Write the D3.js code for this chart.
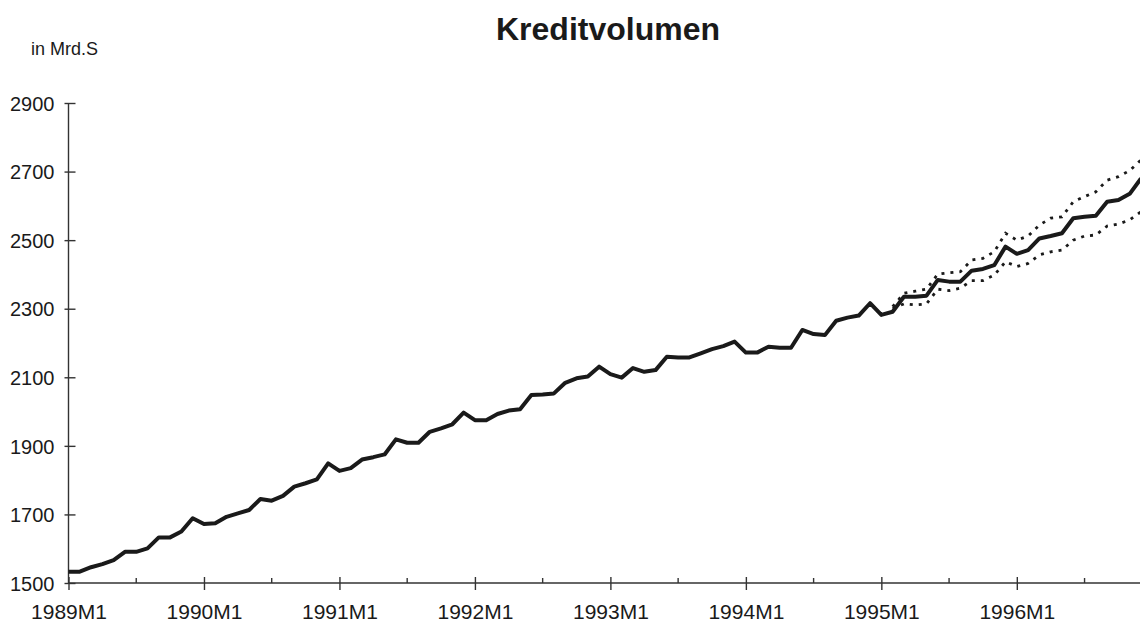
<!DOCTYPE html>
<html>
<head>
<meta charset="utf-8">
<script src="https://cdn.jsdelivr.net/npm/d3@7"></script>
<style>
  html, body { margin: 0; padding: 0; background: #fff; }
  svg text { font-family: "Liberation Sans", Arial, Helvetica, sans-serif; fill: #1a1a1a; }
</style>
</head>
<body>
<svg id="chart" width="1140" height="625"></svg>
<script>
// Kreditvolumen in Mrd.S, monthly 1989M1 .. 1996M12
var years = [1989, 1990, 1991, 1992, 1993, 1994, 1995, 1996];
var yTicks = [1500, 1700, 1900, 2100, 2300, 2500, 2700, 2900];

var volume = [
  1533, 1533, 1546, 1555, 1567, 1591, 1591, 1601, 1633, 1633, 1650, 1689,
  1672, 1674, 1693, 1703, 1713, 1745, 1740, 1754, 1781, 1791, 1802, 1849,
  1827, 1835, 1860, 1867, 1875, 1919, 1909, 1909, 1941, 1951, 1963, 1997,
  1975, 1975, 1993, 2003, 2007, 2048, 2050, 2053, 2084, 2097, 2102, 2131,
  2109, 2099, 2127, 2116, 2121, 2160, 2158, 2158, 2170, 2182, 2191, 2204,
  2172, 2172, 2189, 2186, 2186, 2238, 2226, 2223, 2265, 2274, 2280, 2316,
  2282, 2291, 2335, 2335, 2338, 2384, 2379, 2379, 2411, 2416, 2427, 2481,
  2460, 2471, 2505, 2512, 2520, 2564, 2568, 2571, 2612, 2617, 2635, 2680
];

// forecast band, starting at 1995M2 (month index 73)
var bandStart = 73;
var upper = [2306, 2345, 2351, 2357, 2401, 2405, 2408, 2442, 2447, 2466, 2520,
  2500, 2512, 2544, 2564, 2568, 2612, 2627, 2641, 2675, 2685, 2703, 2734];
var lower = [2301, 2314, 2311, 2314, 2357, 2353, 2360, 2382, 2382, 2398, 2437,
  2423, 2432, 2457, 2466, 2471, 2500, 2512, 2515, 2541, 2547, 2559, 2583];

var svg = d3.select('#chart');

var x = d3.scaleLinear().domain([0, 95]).range([68.5, 1141]);
var y = d3.scaleLinear().domain([1500, 2900]).range([583, 103]);

// title + unit
svg.append('text')
  .attr('x', 608).attr('y', 40)
  .attr('text-anchor', 'middle')
  .style('font-size', '32px').style('font-weight', 'bold')
  .text('Kreditvolumen');

svg.append('text')
  .attr('x', 31).attr('y', 55)
  .style('font-size', '18px')
  .text('in Mrd.S');

// y axis
var yAxis = d3.axisLeft(y).tickValues(yTicks).tickSize(4).tickPadding(10).tickFormat(d3.format('d'));
var yg = svg.append('g').attr('transform', 'translate(' + x(0) + ',0)').call(yAxis);
yg.select('.domain').remove();
yg.append('line').attr('x1', 0).attr('x2', 0).attr('y1', y(2900)).attr('y2', y(1500))
  .attr('stroke', '#333').attr('stroke-width', 1.4);
yg.selectAll('.tick line').attr('x1', 7).attr('stroke', '#333').attr('stroke-width', 1.4);
yg.selectAll('.tick text').style('font-size', '20px').attr('dy', '0.36em')
  .attr('fill', '#1a1a1a').style('font-family', '"Liberation Sans", Arial, sans-serif');

// x axis: major ticks at January, minor at July
var majors = years.map(function(yr, i) { return i * 12; });
var minors = years.map(function(yr, i) { return i * 12 + 6; });
var xAxis = d3.axisBottom(x).tickValues(majors).tickSize(7).tickPadding(14)
  .tickFormat(function(d, i) { return years[i] + 'M1'; });
var xg = svg.append('g').attr('transform', 'translate(0,' + y(1500) + ')').call(xAxis);
xg.select('.domain').remove();
xg.append('line').attr('x1', x(0)).attr('x2', 1140).attr('y1', 0).attr('y2', 0)
  .attr('stroke', '#333').attr('stroke-width', 1.4);
xg.selectAll('.tick line').attr('y1', -6).attr('stroke', '#333').attr('stroke-width', 1.4);
xg.selectAll('.tick text').style('font-size', '21px').attr('dy', '0.71em')
  .attr('fill', '#1a1a1a').style('font-family', '"Liberation Sans", Arial, sans-serif');
xg.selectAll('line.minor').data(minors).enter().append('line')
  .attr('class', 'minor')
  .attr('x1', function(d) { return x(d); }).attr('x2', function(d) { return x(d); })
  .attr('y1', -5).attr('y2', 0)
  .attr('stroke', '#333').attr('stroke-width', 1.4);

// series
var line = d3.line().x(function(d) { return x(d[0]); }).y(function(d) { return y(d[1]); });

var clip = svg.append('defs').append('clipPath').attr('id', 'plot')
  .append('rect').attr('x', 0).attr('y', 90).attr('width', 1140).attr('height', 500);

var bands = [upper, lower];
svg.append('g').attr('clip-path', 'url(#plot)')
  .selectAll('path.band').data(bands).enter().append('path')
  .attr('class', 'band')
  .attr('d', function(b) { return line(b.map(function(v, i) { return [bandStart + i, v]; })); })
  .attr('fill', 'none')
  .attr('stroke', '#1a1a1a')
  .attr('stroke-width', 2.8)
  .attr('stroke-dasharray', '3,6');

svg.append('path')
  .attr('clip-path', 'url(#plot)')
  .attr('d', line(volume.map(function(v, i) { return [i, v]; })))
  .attr('fill', 'none')
  .attr('stroke', '#1a1a1a')
  .attr('stroke-width', 4)
  .attr('stroke-linejoin', 'round');
</script>
</body>
</html>
